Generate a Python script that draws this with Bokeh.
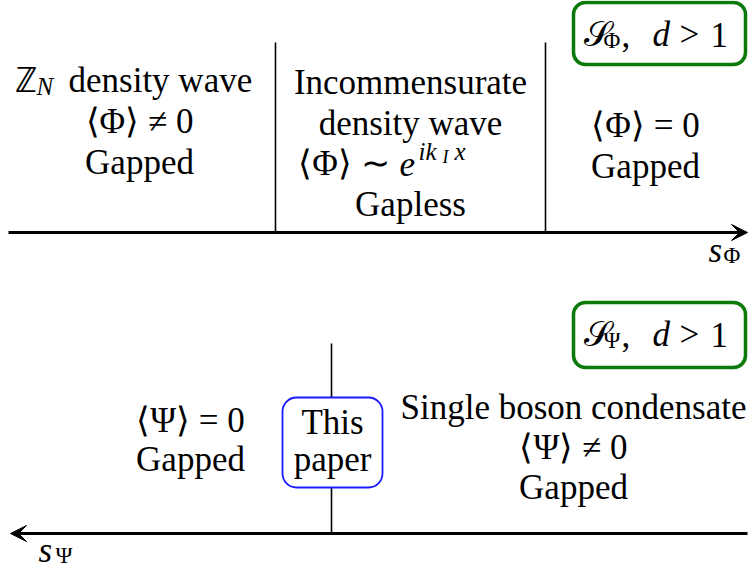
from bokeh.plotting import figure
from bokeh.models import Range1d, Arrow, VeeHead
from bokeh.core.properties import value
from bokeh.embed import file_html
from bokeh.resources import INLINE

# ---------------- diagram content ----------------
# upper axis (s_Phi): phase boundaries and phase descriptions
phi_axis_y = 232
phi_axis_span = [8, 747]
phi_boundaries = [275, 545]
phi_boundary_top = 42

phi_left_lines = ["⟨Φ⟩ ≠ 0", "Gapped"]
phi_mid_lines = ["Incommensurate", "density wave", "Gapless"]
phi_right_lines = ["⟨Φ⟩ = 0", "Gapped"]

# lower axis (s_Psi)
psi_axis_y = 533
psi_axis_span = [747, 10]
psi_boundaries = [331]
psi_boundary_top = 343

psi_left_lines = ["⟨Ψ⟩ = 0", "Gapped"]
psi_right_lines = ["Single boson condensate", "⟨Ψ⟩ ≠ 0", "Gapped"]
paper_lines = ["This", "paper"]

FONT = "serif"
FS = 35
GREEN = "#0b7a0b"
DY = -8  # baseline correction

p = figure(width=754, height=571, x_range=Range1d(0, 754), y_range=Range1d(571, 0),
           output_backend="svg", toolbar_location=None, min_border=0,
           x_axis_type=None, y_axis_type=None, title=None)
p.grid.visible = False
p.outline_line_color = None
p.background_fill_color = "white"


def put(x, y, text, size=FS, italic=False, align="center"):
    p.text(x=[x], y=[y + DY], text=[text], text_font=value(FONT),
           text_font_size=value(f"{size}px"),
           text_font_style="italic" if italic else "normal",
           text_align=align, text_baseline="alphabetic", text_color="black")


# ---------- upper diagram ----------
p.add_layout(Arrow(end=VeeHead(size=16, fill_color="black", line_color="black", line_width=1),
                   x_start=phi_axis_span[0], y_start=phi_axis_y,
                   x_end=phi_axis_span[1], y_end=phi_axis_y, line_width=3, line_color="black"))
p.segment(x0=phi_boundaries, y0=[phi_axis_y] * len(phi_boundaries),
          x1=phi_boundaries, y1=[phi_boundary_top] * len(phi_boundaries),
          line_color="black", line_width=1.6)

# left phase
put(14, 88, "ℤ", align="left")
put(36, 94, "N", size=25, italic=True, align="left")
put(68, 88, "density wave", align="left")
for txt, yb in zip(phi_left_lines, [129, 170]):
    put(139, yb, txt)

# middle phase
put(410, 90, phi_mid_lines[0])
put(410, 131, phi_mid_lines[1])
put(389, 171, "⟨Φ⟩ ∼", align="right")
put(399, 171, "e", italic=True, align="left")
put(418, 159, "ik", size=25, italic=True, align="left")
put(442, 164, "I", size=18, italic=True, align="left")
put(454, 159, "x", size=25, italic=True, align="left")
put(410, 212, phi_mid_lines[2])

# right phase
for txt, yb in zip(phi_right_lines, [133, 174]):
    put(645, yb, txt)

# axis label s_Phi
put(708, 258, "s", italic=True, align="left")
put(723, 263, "Φ", size=23, align="left")

# green box S_Phi
p.quad(left=[573], right=[745], top=[2], bottom=[64], border_radius=12,
       fill_color="white", line_color=GREEN, line_width=3.5)
put(583, 42, "𝒮", align="left")
put(603, 48, "Φ", size=23, align="left")
put(621, 42, ",", align="left")
put(652, 42, "d", italic=True, align="left")
put(679, 42, ">", align="left")
put(710, 42, "1", align="left")

# ---------- lower diagram ----------
p.add_layout(Arrow(end=VeeHead(size=16, fill_color="black", line_color="black", line_width=1),
                   x_start=psi_axis_span[0], y_start=psi_axis_y,
                   x_end=psi_axis_span[1], y_end=psi_axis_y, line_width=3, line_color="black"))
p.segment(x0=psi_boundaries, y0=[psi_axis_y] * len(psi_boundaries),
          x1=psi_boundaries, y1=[psi_boundary_top] * len(psi_boundaries),
          line_color="black", line_width=1.6)

# "This paper" box
p.quad(left=[282], right=[382], top=[397], bottom=[487], border_radius=14,
       fill_color="white", line_color="#1a1aff", line_width=1.8)
put(332, 430, paper_lines[0])
put(332, 467, paper_lines[1])

for txt, yb in zip(psi_left_lines, [428, 467]):
    put(190, yb, txt)
for txt, yb in zip(psi_right_lines, [415, 455, 495]):
    put(573, yb, txt)

# axis label s_Psi
put(38, 558, "s", italic=True, align="left")
put(55, 563, "Ψ", size=23, align="left")

# green box S_Psi
p.quad(left=[573], right=[745], top=[302], bottom=[367], border_radius=12,
       fill_color="white", line_color=GREEN, line_width=3.5)
put(583, 342, "𝒮", align="left")
put(603, 348, "Ψ", size=23, align="left")
put(621, 342, ",", align="left")
put(652, 342, "d", italic=True, align="left")
put(679, 342, ">", align="left")
put(710, 342, "1", align="left")

open("out.html", "w").write(file_html(p, INLINE))
